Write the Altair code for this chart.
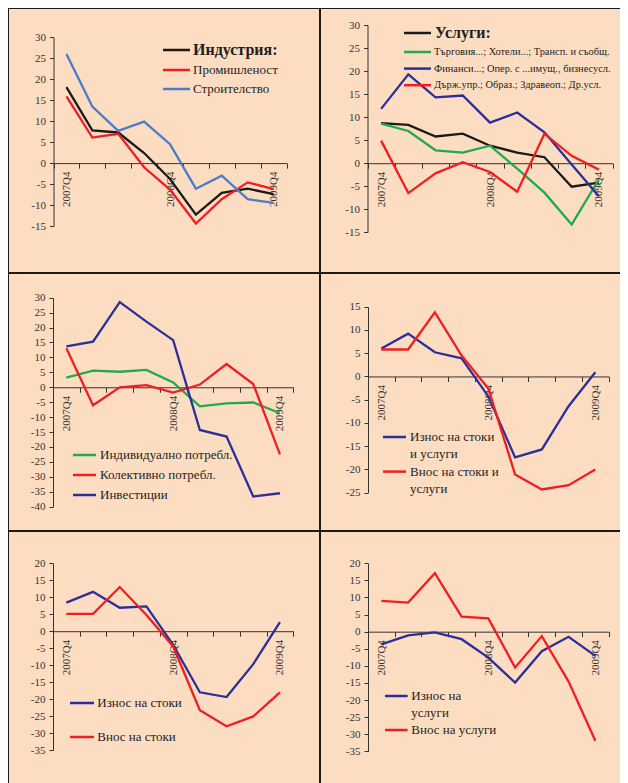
import altair as alt
import pandas as pd

# ---------------- data ----------------
quarters = ["2007Q4", "2008Q1", "2008Q2", "2008Q3", "2008Q4",
            "2009Q1", "2009Q2", "2009Q3", "2009Q4"]
shown_labels = ["2007Q4", "2008Q4", "2009Q4"]

# panel 1
p1_names = ["Индустрия:", "Промишленост", "Строителство"]
p1_industry_total = [18.1, 7.8, 7.3, 2.4, -3.8, -12.3, -7.1, -6.1, -7.4]
p1_manufacturing = [15.9, 6.1, 7.0, -1.0, -6.3, -14.4, -8.6, -4.6, -6.2]
p1_construction = [26.0, 13.5, 7.7, 9.9, 4.5, -6.1, -3.0, -8.6, -9.5]

# panel 2
p2_names = ["Услуги:",
            "Търговия...; Хотели...; Трансп. и съобщ.",
            "Финанси...; Опер. с ...имущ., бизнесусл.",
            "Държ.упр.; Образ.; Здравеоп.; Др.усл."]
p2_services = [8.7, 8.3, 5.8, 6.4, 3.8, 2.3, 1.3, -5.1, -4.2]
p2_trade = [8.6, 7.0, 2.8, 2.3, 3.8, -1.2, -6.4, -13.3, -3.5]
p2_finance = [11.8, 19.3, 14.3, 14.7, 8.8, 11.0, 6.7, -0.3, -7.2]
p2_public = [4.9, -6.5, -2.2, 0.2, -1.9, -6.2, 6.4, 1.6, -1.4]

# panel 3
p3_names = ["Индивидуално потребл.", "Колективно потребл.", "Инвестиции"]
p3_individual = [3.2, 5.6, 5.2, 5.8, 1.6, -6.4, -5.4, -5.1, -8.7]
p3_collective = [13.1, -6.0, 0.0, 0.7, -1.8, 0.9, 7.8, 1.1, -22.5]
p3_investment = [13.7, 15.3, 28.5, 22.0, 15.8, -14.3, -16.5, -36.6, -35.5]

# panel 4 (legend rows: label lines)
p4_rows = ["Износ на стоки", "и услуги", "Внос на стоки и", "услуги"]
p4_exports = [6.0, 9.2, 5.2, 3.9, -4.3, -17.4, -15.7, -6.4, 0.9]
p4_imports = [5.8, 5.8, 13.8, 4.5, -2.6, -21.1, -24.3, -23.4, -20.0]

# panel 5
p5_names = ["Износ на стоки", "Внос на стоки"]
p5_exports = [8.4, 11.6, 6.9, 7.3, -4.0, -18.0, -19.4, -9.7, 2.7]
p5_imports = [5.1, 5.1, 13.0, 4.8, -4.5, -23.3, -28.0, -25.1, -18.0]

# panel 6
p6_rows = ["Износ на", "услуги", "Внос на услуги"]
p6_exports = [-3.7, -1.1, -0.2, -2.2, -7.6, -14.9, -5.7, -1.5, -7.1]
p6_imports = [9.0, 8.5, 17.1, 4.4, 3.9, -10.5, -1.3, -14.6, -31.9]

# ---------------- style ----------------
FONT = "Liberation Serif"
TXT = "#1e1e1e"
AX = "#333333"
BG = "#FDDDC1"
BLACK = "#1a1a1a"
RED = "#f01e23"
LBLUE = "#4a7cc9"
DBLUE = "#2b2f9a"
GREEN = "#1faa4d"
NONE = "transparent"

W, H = 612, 775


def frame(names, series):
    rows = []
    for n, vals in zip(names, series):
        for q, v in zip(quarters, vals):
            rows.append({"q": q, "v": v, "s": n})
    return pd.DataFrame(rows)


def legend(L, Lg, T, Y0, fs, rowpad=5, bold=False):
    size = (Lg / 4.0) ** 2
    lx = L + Lg / 2.0 - fs / 2.0
    return alt.Legend(orient="none", direction="vertical",
                      legendX=lx, legendY=Y0 - fs / 2.0, title=None,
                      symbolType="M-4,0H4", symbolSize=size,
                      symbolStrokeWidth=2.5, labelFont=FONT,
                      labelFontSize=fs,
                      labelFontWeight="bold" if bold else "normal",
                      labelColor=TXT, labelOffset=T - lx - fs,
                      rowPadding=rowpad, padding=0, labelLimit=400)


label_expr = ("indexof([" + ",".join("'%s'" % s for s in shown_labels)
              + "], datum.label) >= 0 ? datum.label : ''")


def panel(xr, ydom, yr, layers):
    y0 = yr[0] + (yr[1] - yr[0]) * (0 - ydom[0]) / (ydom[1] - ydom[0])
    xs = alt.Scale(type="band", domain=quarters, range=list(xr),
                   paddingInner=0, paddingOuter=0)
    ys = alt.Scale(domain=list(ydom), range=list(yr), nice=False, zero=False)
    xaxis = alt.Axis(orient="bottom", offset=round(y0 - H, 2),
                     tickBand="extent", labelAngle=270, labelExpr=label_expr,
                     title=None, grid=False, domainColor=AX, tickColor=AX,
                     tickSize=5, labelPadding=3, labelFont=FONT,
                     labelFontSize=11, labelColor=AX, labelOverlap=False)
    yaxis = alt.Axis(orient="left", offset=-xr[0],
                     values=list(range(ydom[0], ydom[1] + 1, 5)),
                     labelExpr="'' + datum.value", title=None, grid=False,
                     domainColor=AX, tickColor=AX, tickSize=4,
                     labelPadding=4, labelFont=FONT, labelFontSize=11,
                     labelColor=AX)
    charts = []
    for df, dom, rng, leg in layers:
        charts.append(
            alt.Chart(df).mark_line(strokeWidth=2.3).encode(
                x=alt.X("q:O", scale=xs, axis=xaxis, bandPosition=0.5),
                y=alt.Y("v:Q", scale=ys, axis=yaxis),
                color=alt.Color("s:N", scale=alt.Scale(domain=dom, range=rng),
                                legend=leg),
            )
        )
    ch = alt.layer(*charts)
    if len(charts) > 1:
        ch = ch.resolve_scale(color="independent").resolve_legend(color="independent")
    return ch


c1 = panel((45.5, 278.5), (-15, 30), (218, 29.3), [
    (frame(p1_names[:1], [p1_industry_total]), p1_names[:1], [BLACK],
     legend(155, 27, 185, 42, 16, bold=True)),
    (frame(p1_names[1:], [p1_manufacturing, p1_construction]), p1_names[1:],
     [RED, LBLUE], legend(155, 27, 185, 62, 13, rowpad=5)),
])

c2 = panel((359.5, 604.5), (-15, 30), (224.3, 17), [
    (frame(p2_names[:1], [p2_services]), p2_names[:1], [BLACK],
     legend(396, 27, 427, 25, 16, bold=True)),
    (frame(p2_names[1:], [p2_trade, p2_finance, p2_public]), p2_names[1:],
     [GREEN, DBLUE, RED], legend(396, 27, 426, 44, 10.4, rowpad=5.6)),
])

c3 = panel((45, 285.3), (-40, 30), (498.7, 289.7), [
    (frame(p3_names, [p3_individual, p3_collective, p3_investment]), p3_names,
     [GREEN, RED, DBLUE], legend(65, 23, 92, 447, 13, rowpad=6)),
])

c4 = panel((360, 600.7), (-25, 15), (484.7, 298.7), [
    (frame([p4_rows[0], p4_rows[2]], [p4_exports, p4_imports]), p4_rows,
     [DBLUE, NONE, RED, NONE], legend(375, 23, 402, 429, 13, rowpad=3.3)),
])

c5 = panel((45, 285.3), (-35, 20), (742, 555.3), [
    (frame(p5_names, [p5_exports, p5_imports]), p5_names,
     [DBLUE, RED], legend(62, 24, 89.3, 695, 13, rowpad=20)),
])

c6 = panel((360, 600.7), (-35, 20), (743.3, 555.3), [
    (frame([p6_rows[0], p6_rows[2]], [p6_exports, p6_imports]), p6_rows,
     [DBLUE, NONE, RED], legend(377, 22.6, 403.3, 688, 13, rowpad=3)),
])

# panel frame lines (decoration)
def hline(y):
    return alt.Chart().mark_rule(color=BLACK, strokeWidth=2).encode(
        x=alt.value(0), x2=alt.value(W), y=alt.value(y))


def vline(x):
    return alt.Chart().mark_rule(color=BLACK, strokeWidth=2).encode(
        y=alt.value(0), y2=alt.value(H), x=alt.value(x))


frames = [hline(0), vline(0), vline(312), hline(265), hline(523)]

chart = alt.layer(*frames, c1, c2, c3, c4, c5, c6).resolve_scale(
    color="independent", x="independent", y="independent"
).resolve_legend(color="independent").resolve_axis(
    x="independent", y="independent"
).properties(
    width=W, height=H,
    autosize=alt.AutoSizeParams(type="none"),
    padding=0,
    background=BG,
).configure_view(fill=BG, stroke="transparent")

chart.save("out.html", embed_options={"renderer": "svg", "actions": False})
